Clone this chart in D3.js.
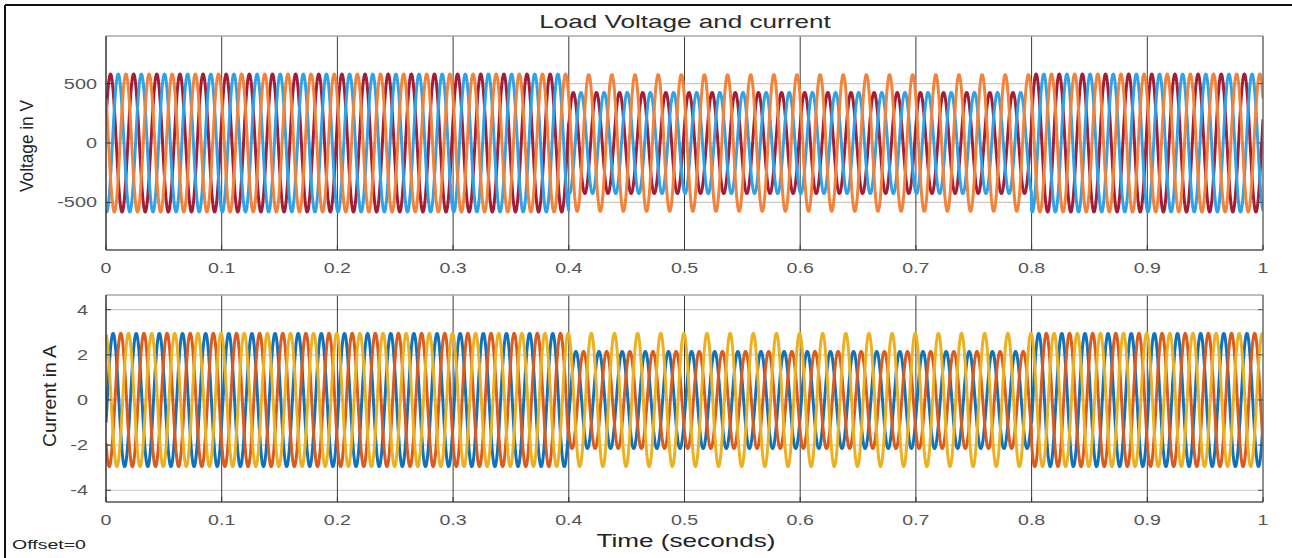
<!DOCTYPE html>
<html>
<head>
<meta charset="utf-8">
<script src="https://cdn.jsdelivr.net/npm/d3@7/dist/d3.min.js"></script>
<style>
  html, body { margin: 0; padding: 0; background: #fff; }
  svg { display: block; font-family: "Liberation Sans", Arial, sans-serif; }
</style>
</head>
<body>
<svg id="chart" width="1292" height="558"></svg>
<script>
// ---------------- data ----------------
const chartTitle = "Load Voltage and current";
const xLabel = "Time (seconds)";
const voltageLabel = "Voltage in V";
const currentLabel = "Current in A";
const offsetText = "Offset=0";

const xTicks = [0, 0.1, 0.2, 0.3, 0.4, 0.5, 0.6, 0.7, 0.8, 0.9, 1];
const xTickLabels = ["0", "0.1", "0.2", "0.3", "0.4", "0.5", "0.6", "0.7", "0.8", "0.9", "1"];
const voltageTicks = [-500, 0, 500];
const voltageTickLabels = ["-500", "0", "500"];
const currentTicks = [-4, -2, 0, 2, 4];
const currentTickLabels = ["-4", "-2", "0", "2", "4"];

// three-phase 50 Hz waveforms; amplitude changes at the switching instants
const frequencyHz = 50;
const segmentStarts = [0, 0.4, 0.8];      // s
const segmentEnds   = [0.4, 0.8, 1.0];    // s

const voltageNames = ["Va", "Vb", "Vc"];
const voltageColors = ["#a51c36", "#2ea3ea", "#f3823a"];
const voltageAmpVa = [580, 425, 580];     // peak V per segment
const voltageAmpVb = [580, 425, 580];
const voltageAmpVc = [580, 575, 580];
const voltagePhaseDeg = [20, -100, 140];

const currentNames = ["Ia", "Ib", "Ic"];
const currentColors = ["#0f72bd", "#dc5a1c", "#edb120"];
const currentAmpIa = [2.95, 2.15, 2.95]; // peak A per segment
const currentAmpIb = [2.95, 2.15, 2.95];
const currentAmpIc = [2.95, 2.95, 2.95];
const currentPhaseDeg = [-20, -140, 100];

const sampleStep = 0.0002; // s

// ---------------- build series ----------------
function buildWave(amps, phaseDeg) {
  const pts = [];
  const n = Math.round(1 / sampleStep);
  for (let i = 0; i <= n; i++) {
    const t = i * sampleStep;
    let seg = segmentStarts.length - 1;
    for (let s = 0; s < segmentStarts.length; s++) {
      if (t >= segmentStarts[s] && t < segmentEnds[s]) { seg = s; break; }
    }
    pts.push([t, amps[seg] * Math.sin(2 * Math.PI * frequencyHz * t + phaseDeg * Math.PI / 180)]);
  }
  return pts;
}
const voltageSeries = [voltageAmpVa, voltageAmpVb, voltageAmpVc].map((a, i) => buildWave(a, voltagePhaseDeg[i]));
const currentSeries = [currentAmpIa, currentAmpIb, currentAmpIc].map((a, i) => buildWave(a, currentPhaseDeg[i]));

// ---------------- layout ----------------
const svg = d3.select("#chart");
const X0 = 106, X1 = 1263;
const x = d3.scaleLinear().domain([0, 1]).range([X0, X1]);

// outer frame
svg.append("line").attr("x1", 5).attr("x2", 5).attr("y1", 5).attr("y2", 558).attr("stroke", "#111").attr("stroke-width", 2);
svg.append("line").attr("x1", 5).attr("x2", 1292).attr("y1", 5).attr("y2", 5).attr("stroke", "#111").attr("stroke-width", 2);

function stretchedText(g, tx, ty, txt, opts) {
  return g.append("text")
    .attr("transform", `translate(${tx},${ty}) scale(${opts.sx || 1},1)`)
    .attr("text-anchor", opts.anchor || "middle")
    .attr("font-size", opts.size)
    .attr("fill", opts.fill || "#333")
    .text(txt);
}

function panel(cfg) {
  const y = d3.scaleLinear().domain(cfg.domain).range([cfg.bottom, cfg.top]);
  const g = svg.append("g");
  const clipId = "clip-" + cfg.id;
  svg.append("clipPath").attr("id", clipId).append("rect")
    .attr("x", X0).attr("y", cfg.top).attr("width", X1 - X0).attr("height", cfg.bottom - cfg.top);

  // horizontal grid (light)
  g.selectAll(".hg").data(cfg.ticks).join("line")
    .attr("x1", X0).attr("x2", X1)
    .attr("y1", d => y(d)).attr("y2", d => y(d))
    .attr("stroke", "#c8c8c8").attr("stroke-width", 1.2);
  // vertical grid (dark)
  g.selectAll(".vg").data(xTicks.slice(1, -1)).join("line")
    .attr("x1", d => x(d)).attr("x2", d => x(d))
    .attr("y1", cfg.top).attr("y2", cfg.bottom)
    .attr("stroke", "#3a3a3a").attr("stroke-width", 1);

  // waveforms
  const line = d3.line().x(d => x(d[0])).y(d => y(d[1]));
  const lg = g.append("g").attr("clip-path", `url(#${clipId})`);
  cfg.series.forEach((s, i) => {
    lg.append("path").datum(s).attr("d", line)
      .attr("fill", "none").attr("stroke", cfg.colors[i]).attr("stroke-width", 3)
      .attr("stroke-linejoin", "round");
  });

  // axes box
  g.append("line").attr("x1", X0).attr("x2", X1).attr("y1", cfg.top).attr("y2", cfg.top).attr("stroke", "#a8a8a8").attr("stroke-width", 1.5);
  g.append("line").attr("x1", X1).attr("x2", X1).attr("y1", cfg.top).attr("y2", cfg.bottom).attr("stroke", "#6a6a6a").attr("stroke-width", 1.5);
  g.append("line").attr("x1", X0).attr("x2", X0).attr("y1", cfg.top).attr("y2", cfg.bottom).attr("stroke", "#333").attr("stroke-width", 1.5);
  g.append("line").attr("x1", X0).attr("x2", X1).attr("y1", cfg.bottom).attr("y2", cfg.bottom).attr("stroke", "#555").attr("stroke-width", 1.5);

  // y ticks
  g.selectAll(".yt").data(cfg.ticks).join("line")
    .attr("x1", X0).attr("x2", X0 + 5)
    .attr("y1", d => y(d)).attr("y2", d => y(d))
    .attr("stroke", "#333");
  g.selectAll(".ytr").data(cfg.ticks).join("line")
    .attr("x1", X1 - 5).attr("x2", X1)
    .attr("y1", d => y(d)).attr("y2", d => y(d))
    .attr("stroke", "#555");
  cfg.ticks.forEach((d, i) => {
    stretchedText(g, cfg.labelRight, y(d) + 5, cfg.tickLabels[i], { size: 14, sx: 1.42, anchor: "end", fill: "#555" });
  });
  // x ticks
  xTicks.forEach((d, i) => {
    g.append("line").attr("x1", x(d)).attr("x2", x(d)).attr("y1", cfg.bottom - 5).attr("y2", cfg.bottom).attr("stroke", "#333");
    stretchedText(g, x(d), cfg.bottom + 23, xTickLabels[i], { size: 14, sx: 1.4, fill: "#555" });
  });

  // y label
  g.append("text")
    .attr("transform", `translate(${cfg.ylabelX},${cfg.ylabelCy}) rotate(-90)`)
    .attr("text-anchor", "middle")
    .attr("font-size", cfg.ylabelSize)
    .attr("textLength", cfg.ylabelLen)
    .attr("lengthAdjust", "spacingAndGlyphs")
    .attr("fill", "#222")
    .text(cfg.ylabel);
}

panel({
  id: "v", top: 36, bottom: 250, domain: [-900, 900],
  ticks: voltageTicks, tickLabels: voltageTickLabels, labelRight: 97,
  series: voltageSeries, colors: voltageColors,
  ylabel: voltageLabel, ylabelX: 33, ylabelCy: 146, ylabelSize: 19, ylabelLen: 92
});
panel({
  id: "i", top: 295, bottom: 502, domain: [-4.52, 4.65],
  ticks: currentTicks, tickLabels: currentTickLabels, labelRight: 88,
  series: currentSeries, colors: currentColors,
  ylabel: currentLabel, ylabelX: 56, ylabelCy: 396, ylabelSize: 18, ylabelLen: 102
});

// title, x label, offset
stretchedText(svg, 685, 28, chartTitle, { size: 18, sx: 1.45, fill: "#2a2a2a" });
stretchedText(svg, 686, 547, xLabel, { size: 18, sx: 1.45, fill: "#222" });
stretchedText(svg, 12, 549, offsetText, { size: 13, sx: 1.5, anchor: "start", fill: "#222" });
</script>
</body>
</html>
